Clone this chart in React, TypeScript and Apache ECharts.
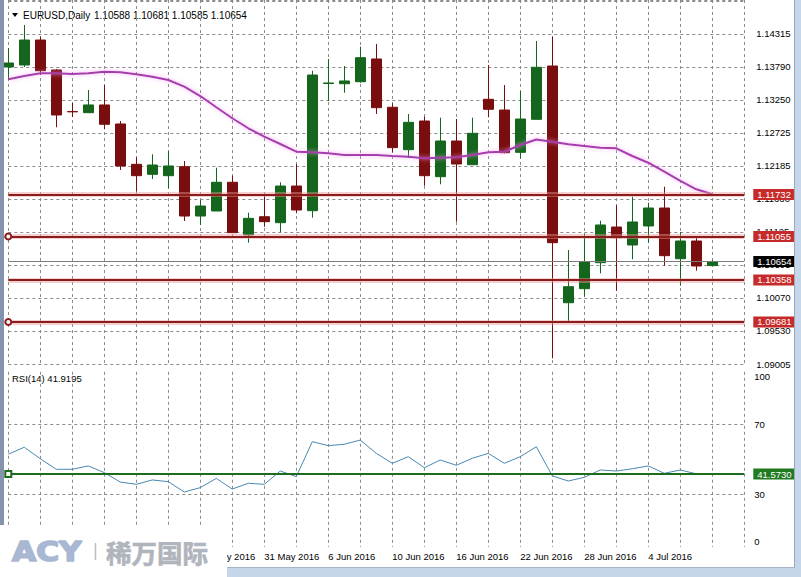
import React, { useEffect, useRef } from 'react';
import * as echarts from 'echarts';

const dates = [
  '9 May 2016', '10 May 2016', '11 May 2016', '12 May 2016', '13 May 2016',
  '16 May 2016', '17 May 2016', '18 May 2016', '19 May 2016', '20 May 2016',
  '23 May 2016', '24 May 2016', '25 May 2016', '26 May 2016', '27 May 2016',
  '30 May 2016', '31 May 2016', '1 Jun 2016', '2 Jun 2016', '3 Jun 2016',
  '6 Jun 2016', '7 Jun 2016', '8 Jun 2016', '9 Jun 2016', '10 Jun 2016',
  '13 Jun 2016', '14 Jun 2016', '15 Jun 2016', '16 Jun 2016', '17 Jun 2016',
  '20 Jun 2016', '21 Jun 2016', '22 Jun 2016', '23 Jun 2016', '24 Jun 2016',
  '27 Jun 2016', '28 Jun 2016', '29 Jun 2016', '30 Jun 2016', '1 Jul 2016',
  '4 Jul 2016', '5 Jul 2016', '6 Jul 2016', '7 Jul 2016', '8 Jul 2016',
  '', '',
];

// [open, close, low, high]
const candles = [
  [1.13784, 1.13848, 1.13575, 1.1409],
  [1.13816, 1.14218, 1.13784, 1.1446],
  [1.14218, 1.13724, 1.13655, 1.14272],
  [1.13736, 1.13012, 1.12814, 1.13752],
  [1.13068, 1.13062, 1.12979, 1.13205],
  [1.13049, 1.13173, 1.13044, 1.13414],
  [1.13173, 1.12862, 1.12782, 1.13494],
  [1.12867, 1.12191, 1.12127, 1.12915],
  [1.12218, 1.12035, 1.11777, 1.12331],
  [1.12057, 1.12207, 1.11982, 1.12379],
  [1.12035, 1.12191, 1.11832, 1.12432],
  [1.1218, 1.11386, 1.11306, 1.12271],
  [1.11386, 1.11547, 1.11242, 1.11644],
  [1.11467, 1.11929, 1.11467, 1.12164],
  [1.11929, 1.11118, 1.11118, 1.12035],
  [1.11081, 1.11349, 1.10957, 1.1144],
  [1.11375, 1.11295, 1.11214, 1.11724],
  [1.11279, 1.11869, 1.11124, 1.11929],
  [1.11869, 1.11483, 1.1143, 1.12223],
  [1.11472, 1.13655, 1.11359, 1.13724],
  [1.13518, 1.13527, 1.13237, 1.13913],
  [1.13515, 1.13559, 1.1337, 1.138],
  [1.13547, 1.13934, 1.13531, 1.14111],
  [1.13913, 1.13129, 1.13028, 1.14154],
  [1.13136, 1.12486, 1.12411, 1.132],
  [1.12453, 1.12894, 1.1232, 1.13028],
  [1.12915, 1.12035, 1.11874, 1.12984],
  [1.12019, 1.12593, 1.11897, 1.12968],
  [1.12593, 1.12223, 1.11295, 1.12947],
  [1.12212, 1.12717, 1.12212, 1.12968],
  [1.13264, 1.13103, 1.12975, 1.13816],
  [1.13092, 1.12405, 1.12395, 1.13494],
  [1.12411, 1.12947, 1.12315, 1.13398],
  [1.12942, 1.13779, 1.12942, 1.14202],
  [1.138, 1.10957, 1.09097, 1.14272],
  [1.09991, 1.10249, 1.09686, 1.10839],
  [1.10217, 1.10651, 1.10088, 1.11108],
  [1.10635, 1.11242, 1.10464, 1.11311],
  [1.11209, 1.11037, 1.10184, 1.11559],
  [1.1092, 1.1129, 1.1069, 1.11697],
  [1.11226, 1.11515, 1.10957, 1.116],
  [1.11515, 1.10748, 1.10587, 1.11858],
  [1.10699, 1.10984, 1.10265, 1.11129],
  [1.10984, 1.10582, 1.10506, 1.11053],
  [1.10588, 1.10654, 1.10585, 1.10681],
];

const maValues = [
  1.13586, 1.13639, 1.13683, 1.13683, 1.13671, 1.13683, 1.13708, 1.13699, 1.13667, 1.13628,
  1.13575, 1.13467, 1.13317, 1.13136, 1.12959, 1.12798, 1.12663, 1.12545, 1.12421, 1.12411,
  1.12395, 1.12368, 1.12368, 1.12368, 1.12352, 1.12341, 1.12315, 1.12325, 1.12331, 1.12368,
  1.12411, 1.12421, 1.12529, 1.12617, 1.12582, 1.1254, 1.12513, 1.12486, 1.12476, 1.12352,
  1.12244, 1.12099, 1.1195, 1.11816, 1.11736,
];

const rsiValues = [
  52.9, 56.9, 50.3, 44.3, 44.3, 46.2, 42.4, 37.0, 35.7, 38.2,
  37.2, 31.3, 33.8, 39.1, 33.0, 36.3, 35.7, 43.3, 40.1, 60.1,
  57.8, 58.6, 61.0, 53.4, 47.7, 51.5, 45.2, 49.6, 46.6, 50.6,
  53.4, 47.7, 51.5, 57.2, 40.5, 37.6, 39.7, 43.9, 43.3, 44.6,
  46.2, 42.0, 43.9, 41.7, 41.9195,
];

const priceTickLabels = [
  '1.09005', '1.09530', '1.10070', '1.10595', '1.11125', '1.11660',
  '1.12185', '1.12725', '1.13250', '1.13790', '1.14315',
];
const priceMin = 1.09005;
const priceStep = 0.00531;
const priceMax = 1.14862;

const levelPrices = [1.11732, 1.11055, 1.10358, 1.09681];
const levelHasMarkers = [false, true, false, true];
const rsiLevel = 41.573;
const rsiBands = [30, 70];
const rsiTickLabels = [0, 30, 70, 100];

const FONT = '"Liberation Sans", Arial, sans-serif';

export default function App() {
  const ref = useRef<HTMLDivElement>(null);

  useEffect(() => {
    if (!ref.current) return;
    const chart = echarts.init(ref.current, null, { renderer: 'svg' });

    const dashed = { color: '#8c8c8c', type: [3, 3] as any, width: 1 };
    const last = candles[candles.length - 1];
    const ohlc = [last[0], last[3], last[2], last[1]].map((v) => v.toFixed(5)).join(' ');
    const lastClose = last[1];
    const lastRsi = rsiValues[rsiValues.length - 1];

    const boxLabel = (bg: string, text: string) => ({
      show: true,
      position: 'end',
      distance: 9,
      formatter: text,
      color: '#fff',
      backgroundColor: bg,
      padding: [1, 3, 0, 4],
      lineHeight: 10,
      fontSize: 9.5,
      fontFamily: FONT,
    });

    const levelGlows = levelPrices.map((p) => ({
      yAxis: p,
      symbol: 'none',
      lineStyle: { color: 'rgba(236,150,150,0.45)', width: 5, type: 'solid' },
      label: { show: false },
    }));

    const levelLines = levelPrices.map((p, i) => ({
      yAxis: p,
      symbol: levelHasMarkers[i] ? 'emptyCircle' : 'none',
      symbolSize: 6,
      lineStyle: { color: '#8b1c1c', width: 2, type: 'solid' },
      label: boxLabel('#c62a2a', p.toFixed(5)),
    }));

    const option: any = {
      animation: false,
      backgroundColor: '#ffffff',
      grid: [
        { left: 8.3, right: 56.7, top: 0, height: 364 },
        { left: 8.3, right: 56.7, top: 371.8, height: 175 },
      ],
      xAxis: [
        {
          type: 'category',
          gridIndex: 0,
          data: dates,
          boundaryGap: false,
          axisLine: { show: false },
          axisTick: { show: false },
          axisLabel: { show: false },
          splitLine: { show: true, interval: 1, lineStyle: dashed },
        },
        {
          type: 'category',
          gridIndex: 1,
          data: dates,
          boundaryGap: false,
          axisLine: { show: false },
          axisTick: { show: false },
          axisLabel: {
            show: true,
            interval: 3,
            align: 'left',
            margin: 5,
            fontSize: 9.5,
            color: '#000',
            fontFamily: FONT,
            showMinLabel: true,
            showMaxLabel: false,
          },
          splitLine: { show: true, interval: 1, lineStyle: dashed },
        },
      ],
      yAxis: [
        {
          type: 'value',
          gridIndex: 0,
          position: 'right',
          min: priceMin,
          max: priceMax,
          interval: priceStep,
          axisLine: { show: false },
          axisTick: { show: false },
          axisLabel: {
            margin: 12,
            fontSize: 9.5,
            color: '#000',
            fontFamily: FONT,
            showMaxLabel: false,
            formatter: (v: number) => {
              const i = Math.round((v - priceMin) / priceStep);
              return priceTickLabels[i] ?? '';
            },
          },
          splitLine: { show: true, lineStyle: dashed },
        },
        {
          type: 'value',
          gridIndex: 1,
          position: 'right',
          min: 0,
          max: 100,
          interval: 10,
          axisLine: { show: false },
          axisTick: { show: false },
          axisLabel: {
            margin: 10,
            fontSize: 9.5,
            color: '#000',
            fontFamily: FONT,
            verticalAlignMaxLabel: 'top',
            verticalAlignMinLabel: 'bottom',
            formatter: (v: number) => (rsiTickLabels.includes(Math.round(v)) ? String(Math.round(v)) : ''),
          },
          splitLine: { show: false },
        },
      ],
      series: [
        {
          type: 'candlestick',
          xAxisIndex: 0,
          yAxisIndex: 0,
          data: candles,
          barWidth: 11,
          itemStyle: {
            color: '#14661c',
            color0: '#7a0e0e',
            borderColor: '#14661c',
            borderColor0: '#7a0e0e',
            borderWidth: 1,
          },
          markLine: {
            silent: true,
            precision: 5,
            symbol: ['none', 'none'],
            data: [
              ...levelGlows,
              ...levelLines,
              {
                yAxis: lastClose,
                symbol: 'none',
                lineStyle: { color: '#7d7d7d', width: 1, type: 'solid' },
                label: boxLabel('#000000', lastClose.toFixed(5)),
              },
            ],
          },
        },
        {
          type: 'line',
          xAxisIndex: 0,
          yAxisIndex: 0,
          data: maValues,
          symbol: 'none',
          lineStyle: {
            color: '#a53cad',
            width: 2,
            shadowColor: 'rgba(245,150,245,0.8)',
            shadowBlur: 4,
          },
          z: 3,
        },
        {
          type: 'line',
          xAxisIndex: 1,
          yAxisIndex: 1,
          data: rsiValues,
          symbol: 'none',
          lineStyle: { color: '#4a88b0', width: 1 },
          markLine: {
            silent: true,
            precision: 4,
            symbol: ['none', 'none'],
            data: [
              ...rsiBands.map((b) => ({
                yAxis: b,
                lineStyle: dashed,
                label: { show: false },
              })),
              {
                yAxis: rsiLevel,
                symbol: 'emptyRect',
                symbolSize: 6,
                lineStyle: { color: '#1d6b1d', width: 2, type: 'solid' },
                label: boxLabel('#1f7a20', rsiLevel.toFixed(4)),
              },
            ],
          },
        },
      ],
      graphic: [
        {
          type: 'polygon',
          shape: { points: [[12, 13], [18, 13], [15, 17]] },
          style: { fill: '#000' },
        },
        {
          type: 'text',
          x: 23,
          y: 15.5,
          style: {
            text: 'EURUSD,Daily',
            fill: '#000',
            font: `10px ${FONT}`,
            textVerticalAlign: 'middle',
            verticalAlign: 'middle',
          },
        },
        {
          type: 'text',
          x: 94,
          y: 15.5,
          style: {
            text: ohlc,
            fill: '#000',
            font: `10px ${FONT}`,
            textVerticalAlign: 'middle',
            verticalAlign: 'middle',
          },
        },
        {
          type: 'text',
          x: 12,
          y: 378,
          style: {
            text: `RSI(14) ${lastRsi.toFixed(4)}`,
            fill: '#000',
            font: `9.5px ${FONT}`,
            textVerticalAlign: 'middle',
            verticalAlign: 'middle',
          },
        },
        // window frame
        { type: 'rect', z: 100, shape: { x: 0, y: 0, width: 4, height: 577 }, style: { fill: '#8494ad' } },
        { type: 'rect', z: 100, shape: { x: 795, y: 0, width: 6, height: 577 }, style: { fill: '#c6d6ea' } },
        { type: 'line', z: 100, shape: { x1: 794.5, y1: 0, x2: 794.5, y2: 568 }, style: { stroke: '#9aa8bd', lineWidth: 1 } },
        { type: 'rect', z: 100, shape: { x: 0, y: 568, width: 801, height: 9 }, style: { fill: '#c6d6ea' } },
        { type: 'line', z: 100, shape: { x1: 0, y1: 567.5, x2: 795, y2: 567.5 }, style: { stroke: '#a7b5c9', lineWidth: 1 } },
        // logo
        { type: 'rect', z: 110, shape: { x: 0, y: 525, width: 227, height: 52 }, style: { fill: '#ffffff' } },
        {
          type: 'text',
          z: 111,
          x: 12,
          y: 551.5,
          scaleX: 1.2,
          style: {
            text: 'ACY',
            fill: '#a9b8d2',
            stroke: '#a9b8d2',
            lineWidth: 1.6,
            font: 'bold 26px "DejaVu Sans", sans-serif',
            textVerticalAlign: 'middle',
            verticalAlign: 'middle',
          },
        },
        { type: 'line', z: 111, shape: { x1: 95.5, y1: 543, x2: 95.5, y2: 560 }, style: { stroke: '#b9bdc5', lineWidth: 1.5 } },
        {
          type: 'text',
          z: 111,
          x: 106,
          y: 551,
          style: {
            text: '稀万国际',
            fill: '#b0b4bc',
            stroke: '#b0b4bc',
            lineWidth: 0.6,
            font: 'bold 25.5px "Noto Sans CJK SC", sans-serif',
            textVerticalAlign: 'middle',
            verticalAlign: 'middle',
          },
        },
      ],
    };

    chart.setOption(option);
    return () => chart.dispose();
  }, []);

  return (
    <div
      ref={ref}
      style={{ position: 'absolute', left: 0, top: 0, width: 801, height: 577, background: '#fff' }}
    />
  );
}
